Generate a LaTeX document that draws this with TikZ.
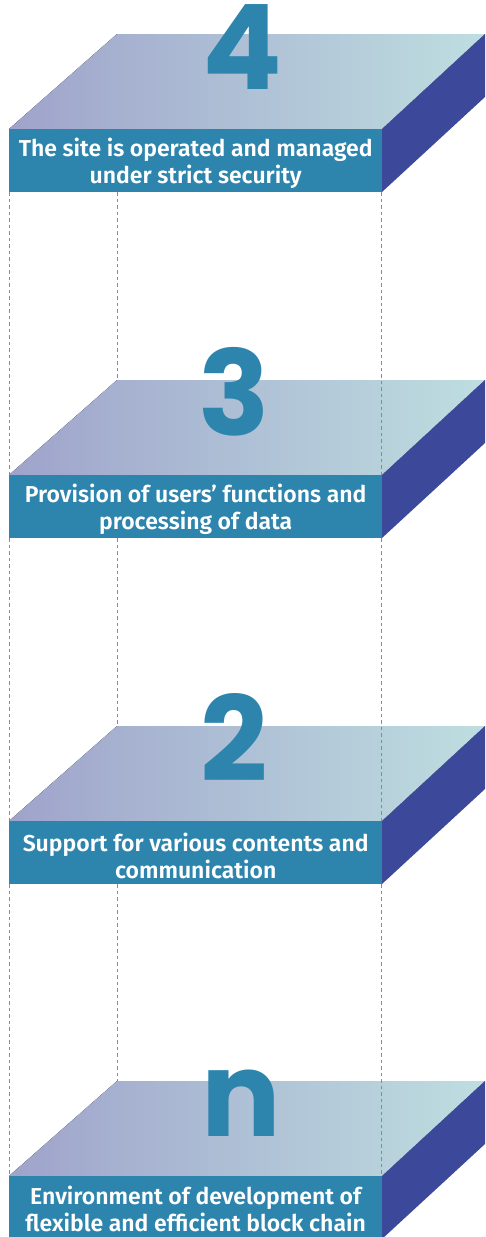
\documentclass[tikz,border=0pt]{standalone}
\usepackage{fontspec}
\setmainfont{Fira Sans}[BoldFont={Fira Sans SemiBold}]
\newfontfamily\numfont{Poppins}[BoldFont={Poppins Bold}]
\definecolor{frontc}{HTML}{2D85AD}
\definecolor{sidec}{HTML}{3C489A}
\definecolor{topl}{HTML}{9FA3CB}
\definecolor{topr}{HTML}{BEDEE0}
\definecolor{dashc}{HTML}{559BC9}
\tikzset{
  topface/.style={left color=topl, right color=topr, draw=none},
  sideface/.style={fill=sidec, draw=none},
  frontface/.style={fill=frontc, draw=none, minimum width=373pt, minimum height=63pt,
    anchor=north west, inner sep=0pt},
  labeltext/.style={text=white, align=center, inner sep=0pt,
    font=\bfseries\fontsize{23}{27}\selectfont},
  numeral/.style={text=frontc, font=\numfont\bfseries\fontsize{118}{118}\selectfont,
    anchor=base, inner sep=0pt},
  guide/.style={draw=dashc, dash pattern=on 3.5pt off 3pt, line width=1pt}
}
\begin{document}
\begin{tikzpicture}[x=1pt,y=-1pt]
\useasboundingbox (0,0) rectangle (485,1237);
\clip (0,0) rectangle (485,1237);
\foreach \name/\ft/\num/\nx/\sh/\txt in {
  4/129/4/242/-3/{The site is operated and managed\\under strict security},
  3/475/3/234/-3/{Provision of users’ functions and\\processing of data},
  2/821/2/234/-3/{Support for various contents and\\communication},
  n/1176/n/241/-1/{Environment of development of\\flexible and efficient block chain}}{
  \fill[topface] (9,\ft) -- (117,\ft-95) -- (485,\ft-95) -- (382,\ft) -- cycle;
  \fill[sideface] (382,\ft) -- (485,\ft-95) -- (485,\ft-32) -- (382,\ft+63) -- cycle;
  \coordinate (bl\name) at (117,\ft-95);
  \node[frontface] (f\name) at (9,\ft) {};
  \node[labeltext] (t\name) at ([yshift=\sh pt]f\name.center) {\txt};
  \node[numeral] (num\name) at (\nx,\ft-40) {\num};
}
\foreach \a/\b in {4/3,3/2,2/n}{
  \draw[guide] (f\a.south west) -- (f\b.north west);
  \draw[guide] (f\a.south west -| bl\b) -- (bl\b);
  \draw[guide] ([xshift=-1pt]f\a.south east) -- ([xshift=-1pt]f\b.north east);
}
\end{tikzpicture}
\end{document}
